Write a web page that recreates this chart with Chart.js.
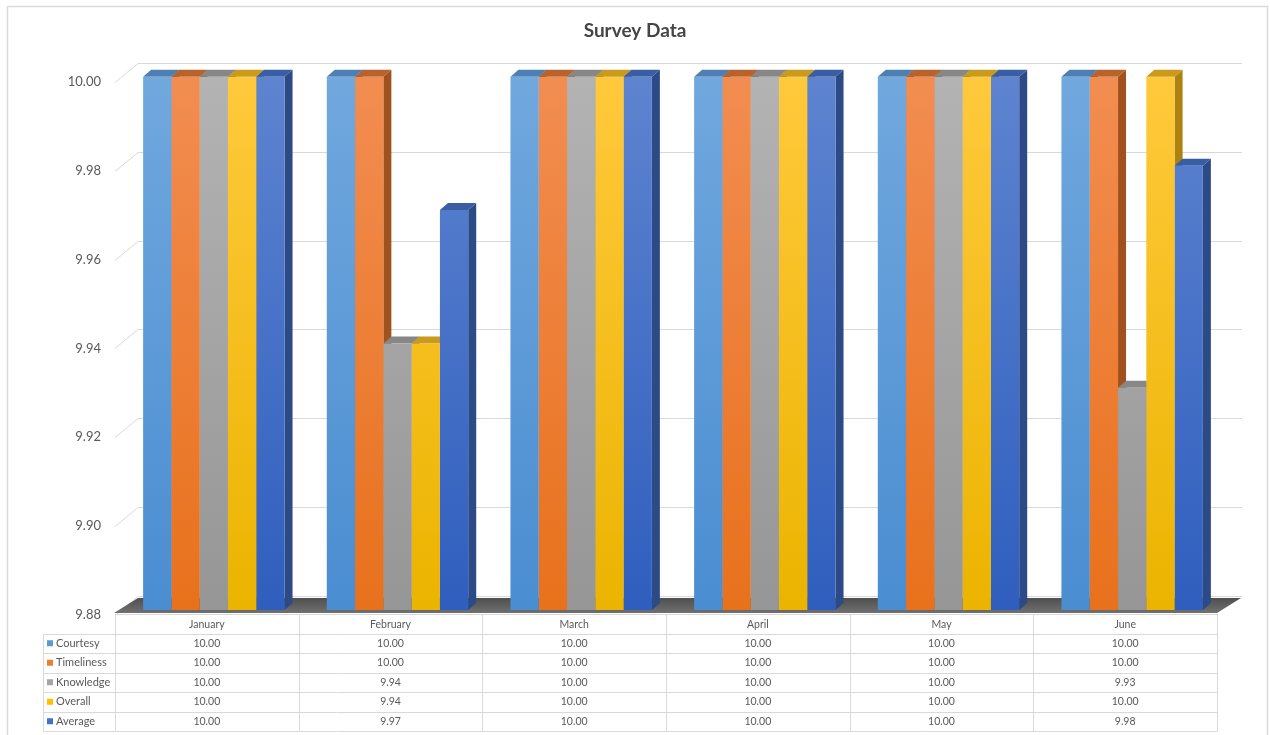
<!DOCTYPE html>
<html>
<head>
<meta charset="utf-8">
<title>Survey Data</title>
<script src="https://cdn.jsdelivr.net/npm/chart.js@4/dist/chart.umd.min.js"></script>
<style>
  html, body { margin: 0; padding: 0; background: #fff; }
  #wrap { width: 1270px; height: 735px; }
</style>
</head>
<body>
<div id="wrap"><canvas id="survey"></canvas></div>
<script>
// survey scores per month
var months = ['January', 'February', 'March', 'April', 'May', 'June'];
var courtesy = [10.00, 10.00, 10.00, 10.00, 10.00, 10.00];
var timeliness = [10.00, 10.00, 10.00, 10.00, 10.00, 10.00];
var knowledge = [10.00, 9.94, 10.00, 10.00, 10.00, 9.93];
var overall = [10.00, 9.94, 10.00, 10.00, 10.00, 10.00];
var average = [10.00, 9.97, 10.00, 10.00, 10.00, 9.98];
var seriesNames = ['Courtesy', 'Timeliness', 'Knowledge', 'Overall', 'Average'];
var yTicks = [9.88, 9.90, 9.92, 9.94, 9.96, 9.98, 10.00];

// front (top, bottom), top face, side face, legend key
var palette = [
    { hi: '#71a8de', lo: '#4a8dd1', top: '#4e7fb3', side: '#3f6e9e', key: '#5b9bd5' },
    { hi: '#f28d51', lo: '#e8711c', top: '#b8622c', side: '#a0511d', key: '#ed7d31' },
    { hi: '#b3b3b3', lo: '#969696', top: '#878787', side: '#767676', key: '#a5a5a5' },
    { hi: '#ffc93c', lo: '#ebb400', top: '#c99a1c', side: '#ad820d', key: '#ffc000' },
    { hi: '#5e84d0', lo: '#2f5ebe', top: '#3a5ea3', side: '#2c4a86', key: '#4472c4' }
];

var DX = 8, DY = 7;          // depth of the bars
var WX = 23, WY = 19;        // depth of the walls / floor
var SHIFT = 7;               // table columns sit a bit left of the bar groups
var textColor = '#595959';
var lineColor = '#d9d9d9';

function frontGradient(idx){
    return function(ctx){
        var area = ctx.chart.chartArea;
        if(!area) return palette[idx].key;
        var g = ctx.chart.ctx.createLinearGradient(0, area.top, 0, area.bottom);
        g.addColorStop(0, palette[idx].hi);
        g.addColorStop(1, palette[idx].lo);
        return g;
    };
}

var seriesData = [courtesy, timeliness, knowledge, overall, average];
var datasets = [];
for(var i=0; i<seriesData.length; i++){
    datasets.push({
        label: seriesNames[i],
        data: seriesData[i],
        backgroundColor: frontGradient(i),
        borderWidth: 0,
        categoryPercentage: 0.77,
        barPercentage: 1.0
    });
}

// page frame, back wall grid, floor and the 3D faces of the bars
var depthPlugin = {
    id: 'depth',
    beforeDraw: function(chart){
        var c = chart.ctx;
        c.save();
        c.fillStyle = '#fff';
        c.fillRect(0, 0, chart.width, chart.height);
        c.strokeStyle = lineColor;
        c.lineWidth = 1.5;
        c.strokeRect(7.5, 6.5, 1260, 740);
        c.restore();
    },
    beforeDatasetsDraw: function(chart){
        var c = chart.ctx, a = chart.chartArea, ys = chart.scales.y;
        c.save();
        c.strokeStyle = lineColor;
        c.lineWidth = 1;
        yTicks.forEach(function(v){
            var y = Math.round(ys.getPixelForValue(v)) + 0.5;
            c.beginPath();
            c.moveTo(a.left - SHIFT, y + 5);
            c.lineTo(a.left - SHIFT + WX, y + 5 - WY);
            c.lineTo(a.right + 18, y + 5 - WY);
            c.stroke();
        });

        // floor
        var fy = a.bottom + 3;
        var fg = c.createLinearGradient(0, fy - 15, 0, fy);
        fg.addColorStop(0, '#4f4f4f');
        fg.addColorStop(1, '#707070');
        c.fillStyle = fg;
        c.beginPath();
        c.moveTo(a.left - SHIFT - 1, fy);
        c.lineTo(a.left - SHIFT + WX, fy - 15);
        c.lineTo(a.right + 17, fy - 15);
        c.lineTo(a.right - SHIFT, fy);
        c.closePath();
        c.fill();

        // top and side faces, left to right inside each month
        for(var m=0; m<months.length; m++){
            for(var d=0; d<datasets.length; d++){
                var bar = chart.getDatasetMeta(d).data[m];
                var x1 = bar.x - bar.width/2, x2 = bar.x + bar.width/2;
                var y = bar.y, b = Math.min(bar.base, a.bottom);
                c.fillStyle = palette[d].side;
                c.beginPath();
                c.moveTo(x2, y);
                c.lineTo(x2 + DX, y - DY);
                c.lineTo(x2 + DX, b - DY);
                c.lineTo(x2, b);
                c.closePath();
                c.fill();
                c.fillStyle = palette[d].top;
                c.beginPath();
                c.moveTo(x1, y);
                c.lineTo(x1 + DX, y - DY);
                c.lineTo(x2 + DX, y - DY);
                c.lineTo(x2, y);
                c.closePath();
                c.fill();
            }
        }
        c.restore();
    },
    afterDraw: function(chart){
        // data table under the plot
        var c = chart.ctx, a = chart.chartArea;
        var colW = (a.right - a.left) / months.length;
        var left = a.left - SHIFT, right = a.right - SHIFT;
        var top = a.bottom + 4, rowH = 19.5;
        var legL = 43;
        c.save();
        c.strokeStyle = lineColor;
        c.lineWidth = 1;
        c.beginPath();
        for(var r=0; r<=seriesNames.length + 1; r++){
            var y = Math.round(top + r*rowH) + 0.5;
            if(r === 0){ c.moveTo(left, y); c.lineTo(right, y); }
            else { c.moveTo(legL, y); c.lineTo(right, y); }
        }
        var bottom = Math.round(top + (seriesNames.length + 1)*rowH) + 0.5;
        for(var k=0; k<=months.length; k++){
            var x = Math.round(left + k*colW) + 0.5;
            c.moveTo(x, top); c.lineTo(x, bottom);
        }
        c.moveTo(legL + 0.5, top + rowH); c.lineTo(legL + 0.5, bottom);
        c.stroke();

        c.font = '10.5px Lato';
        c.fillStyle = textColor;
        c.textBaseline = 'middle';
        c.textAlign = 'center';
        for(var j=0; j<months.length; j++){
            var cx = left + (j + 0.5)*colW;
            c.fillText(months[j], cx, top + rowH/2 + 1);
            for(var s=0; s<seriesData.length; s++){
                c.fillText(seriesData[s][j].toFixed(2), cx, top + (s + 1.5)*rowH);
            }
        }
        c.textAlign = 'left';
        c.font = '11px Lato';
        for(var s2=0; s2<seriesNames.length; s2++){
            var ry = top + (s2 + 1.5)*rowH;
            c.fillStyle = palette[s2].key;
            c.fillRect(legL + 4, ry - 3, 6, 6);
            c.fillStyle = textColor;
            c.fillText(seriesNames[s2], legL + 13, ry);
        }
        c.restore();
    }
};

new Chart(document.getElementById('survey'), {
    type: 'bar',
    data: { labels: months, datasets: datasets },
    plugins: [depthPlugin],
    options: {
        responsive: true,
        maintainAspectRatio: false,
        animation: false,
        layout: { padding: { left: 0, right: 0, top: 0, bottom: 125 } },
        plugins: {
            legend: { display: false },
            tooltip: { enabled: false },
            title: {
                display: true,
                text: 'Survey Data',
                color: '#454545',
                font: { family: 'Lato', size: 19, weight: 'bold' },
                padding: { top: 19, bottom: 35 }
            }
        },
        scales: {
            x: { display: false },
            y: {
                min: 9.88,
                max: 10.00,
                afterFit: function(scale){ scale.width = 122; },
                afterBuildTicks: function(scale){
                    scale.ticks = yTicks.map(function(v){ return { value: v }; });
                },
                grid: { display: false, drawTicks: false },
                border: { display: false },
                ticks: {
                    padding: 21,
                    labelOffset: 5,
                    color: textColor,
                    font: { family: 'Lato', size: 13 },
                    callback: function(v){ return Number(v).toFixed(2); }
                }
            },
            // empty strip on the right that holds the wall depth
            yRight: {
                position: 'right',
                display: true,
                min: 9.88,
                max: 10.00,
                afterFit: function(scale){ scale.width = 46; },
                grid: { display: false, drawTicks: false },
                border: { display: false },
                ticks: { display: false }
            }
        }
    }
});
</script>
</body>
</html>
